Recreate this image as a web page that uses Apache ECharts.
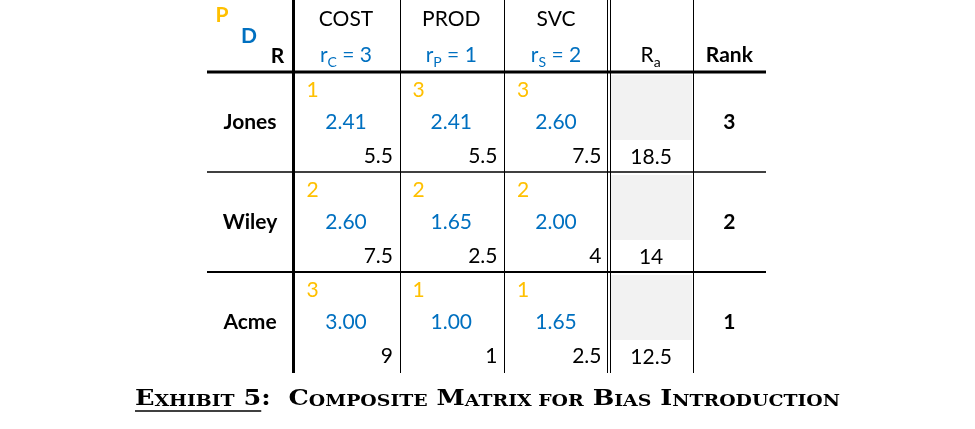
<!DOCTYPE html>
<html><head><meta charset="utf-8">
<script src="https://cdn.jsdelivr.net/npm/echarts@6/dist/echarts.min.js"></script>
<style>html,body{margin:0;padding:0;background:#fff}#c{width:975px;height:429px}</style>
</head><body><div id="c"></div>
<script>
// ---------- data ----------
const companies = ['Jones', 'Wiley', 'Acme'];
const criteria = ['COST', 'PROD', 'SVC'];
const criteriaSub = ['C', 'P', 'S'];
const weights = [3, 1, 2];
const pRanks = [[1, 3, 3], [2, 2, 2], [3, 1, 1]];
const dValues = [[2.41, 2.41, 2.60], [2.60, 1.65, 2.00], [3.00, 1.00, 1.65]];
const rValues = [[5.5, 5.5, 7.5], [7.5, 2.5, 4], [9, 1, 2.5]];
const raValues = [18.5, 14, 12.5];
const rankValues = [3, 2, 1];
const cornerLabels = ['P', 'D', 'R'];
const raLabel = ['R', 'a'];
const rankLabel = 'Rank';
const titleRuns = [['B','E'],['S','XHIBIT'],['B',' 5'],['B',':  '],['B','C'],['S','OMPOSITE'],['B',' M'],['S','ATRIX'],['S',' FOR'],['B',' B'],['S','IAS'],['B',' I'],['S','NTRODUCTION']];
const underlinedRuns = 3;

// ---------- layout / style ----------
const FONT = 'Lato';
const FS = 21;
const SX = 1.0;
const YEL = '#FFC000', BLU = '#0070C0', BLK = '#000000', GRY = '#F2F2F2';
const XMAX = 559;
const COL = [0, 86, 192, 296.5, 401.5, 485.7, XMAX];
const HEAD = -0.72, YMAX = 3.01;
const VLINES = [[86, 3], [192.5, 1], [296.5, 1], [400, 1], [403, 1], [485.7, 1]];
const HLINES = [[0, 3], [1, 1.5], [2, 2]];

function mid(i) { return (COL[i] + COL[i + 1]) / 2; }
function T(api, xv, yv, text, o) {
  o = o || {};
  const p = api.coord([xv, yv]);
  const st = { text: String(text), fill: o.c || BLK, fontFamily: FONT, fontSize: o.s || FS,
    fontWeight: o.b ? 'bold' : 'normal', align: o.a || 'center', verticalAlign: 'middle' };
  if (o.rich) st.rich = o.rich;
  return { type: 'text', x: p[0], y: p[1], scaleX: SX, style: st };
}
function subRich(col) {
  return {
    m: { fontFamily: FONT, fontSize: FS, fill: col, lineHeight: 28, verticalAlign: 'middle' },
    s: { fontFamily: FONT, fontSize: 14, fill: col, lineHeight: 28, verticalAlign: 'bottom' }
  };
}

function renderFrame(params, api) {
  const ch = [];
  VLINES.forEach(([x, w]) => {
    const a = api.coord([x, HEAD]), b = api.coord([x, YMAX]);
    let px = w % 2 === 1 ? Math.round(a[0]) + 0.5 : a[0];
    ch.push({ type: 'line', shape: { x1: px, y1: a[1], x2: px, y2: b[1] }, style: { stroke: BLK, lineWidth: w } });
  });
  HLINES.forEach(([y, w]) => {
    const a = api.coord([0, y]), b = api.coord([XMAX, y]);
    ch.push({ type: 'line', shape: { x1: a[0], y1: a[1], x2: b[0], y2: b[1] }, style: { stroke: BLK, lineWidth: w } });
  });
  return { type: 'group', children: ch };
}

function renderHeader(params, api) {
  const ch = [];
  const cols = [YEL, BLU, BLK];
  const cx = [15, 42, 70.5], cy = [-0.57, -0.36, -0.155];
  cornerLabels.forEach((l, i) => ch.push(T(api, cx[i], cy[i], l, { c: cols[i], b: true })));
  criteria.forEach((c, j) => {
    ch.push(T(api, mid(j + 1), -0.53, c));
    ch.push(T(api, mid(j + 1), -0.165, '{m|r}{s|' + criteriaSub[j] + '}{m| = ' + weights[j] + '}', { c: BLU, rich: subRich(BLU) }));
  });
  ch.push(T(api, mid(4), -0.165, '{m|' + raLabel[0] + '}{s|' + raLabel[1] + '}', { rich: subRich(BLK) }));
  ch.push(T(api, mid(5), -0.165, rankLabel, { b: true }));
  return { type: 'group', children: ch };
}

function renderRow(params, api) {
  const r = api.value(0);
  const ch = [];
  const g0 = api.coord([404, r + 0.03]), g1 = api.coord([485.2, r + 0.68]);
  ch.push({ type: 'rect', shape: { x: g0[0], y: g0[1], width: g1[0] - g0[0], height: g1[1] - g0[1] }, style: { fill: GRY } });
  ch.push(T(api, mid(0), r + 0.505, companies[r], { b: true }));
  for (let j = 0; j < 3; j++) {
    ch.push(T(api, COL[j + 1] + 13.5, r + 0.18, pRanks[r][j], { c: YEL, a: 'left' }));
    ch.push(T(api, mid(j + 1), r + 0.505, dValues[r][j].toFixed(2), { c: BLU }));
    ch.push(T(api, COL[j + 2] - (j === 2 ? 7 : 6), r + 0.845, rValues[r][j], { a: 'right' }));
  }
  ch.push(T(api, mid(4) + 0.5, r + 0.85, raValues[r]));
  ch.push(T(api, mid(5), r + 0.505, rankValues[r], { b: true }));
  return { type: 'group', children: ch };
}

// ---------- title ----------
const TF = '"DejaVu Serif"';
const TB = 23, TS = 17;
const cv = document.createElement('canvas').getContext('2d');
function meas(t, s) { cv.font = 'bold ' + s + 'px ' + TF; return cv.measureText(t).width; }
let totalW = 0, ulW = 0;
titleRuns.forEach(([k, t], i) => { const w = meas(t, k === 'B' ? TB : TS); totalW += w; if (i < underlinedRuns) ulW += w; });
const TL = 135, TR = 840;
const tsx = (TR - TL) / totalW;
const titleText = titleRuns.map(([k, t]) => '{' + k + '|' + t + '}').join('');

const chart = echarts.init(document.getElementById('c'));
chart.setOption({
  animation: false,
  backgroundColor: '#fff',
  grid: { left: 207, right: 975 - 766, top: 0, bottom: 56 },
  xAxis: { type: 'value', min: 0, max: XMAX, show: false },
  yAxis: { type: 'value', inverse: true, min: HEAD, max: YMAX, show: false },
  series: [
    { type: 'custom', name: 'rows', data: companies.map((c, i) => [i]), renderItem: renderRow, silent: true },
    { type: 'custom', name: 'header', data: [[0]], renderItem: renderHeader, silent: true },
    { type: 'custom', name: 'frame', data: [[0]], renderItem: renderFrame, silent: true, z: 3 }
  ],
  graphic: [
    { type: 'text', x: TL, y: 410.5, scaleX: tsx, silent: true,
      style: { text: titleText, align: 'left', verticalAlign: 'bottom',
        rich: {
          B: { fontFamily: TF, fontWeight: 'bold', fontSize: TB, lineHeight: TB, fill: '#000', verticalAlign: 'bottom' },
          S: { fontFamily: TF, fontWeight: 'bold', fontSize: TS, lineHeight: TS, fill: '#000', verticalAlign: 'bottom' }
        } } },
    { type: 'line', silent: true, shape: { x1: TL, y1: 411, x2: TL + ulW * tsx, y2: 411 }, style: { stroke: '#000', lineWidth: 1.5 } }
  ]
});
</script>
</body></html>
